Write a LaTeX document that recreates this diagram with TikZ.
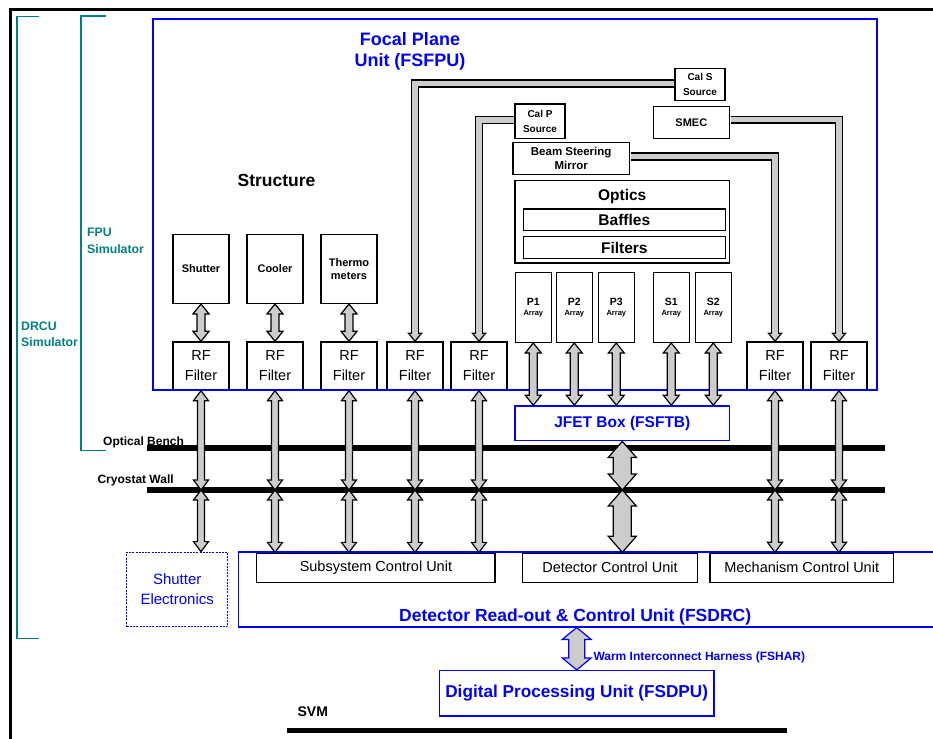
\documentclass[tikz,border=0pt]{standalone}
\usepackage{fontspec}
\setmainfont{Liberation Sans}
\usepackage{tikz}
\usepackage{xcolor}
\usetikzlibrary{calc}

\newcommand{\harness}[6]{\filldraw[#1] (#2) -- ++(#5,#6) -- ++(#4-#5,0) -- ($(#3)+(#4,-#6)$) -- ++(#5-#4,0) -- (#3) -- ++(-#5,-#6) -- ++(#5-#4,0) -- ($(#2)+(-#4,#6)$) -- ++(#4-#5,0) -- cycle;}
\newcommand{\pipehead}[2]{\filldraw[#1] ($(#2)+(-2.8,-8)$) -- ++(-3.7,0) -- (#2) -- ++(6.5,-8) -- ++(-3.7,0);}

\begin{document}
\begin{tikzpicture}[x=1pt, y=-1pt,
		unit/.style={draw, line width={1.4pt}, inner sep=0pt, align=center},
		blueunit/.style={draw={BLUE}, line width={1.5pt}, inner sep=0pt, align=center, text={BLUE}},
		arr/.style={draw, line width={1.2pt}, fill={GREY}},
		bluearr/.style={draw={BLUE}, line width={1.2pt}, fill={GREY}},
		harnesspipe/.style={draw={GREY}, line width={5.6pt}, preaction={draw=black, line width={8.2pt}}},
		simbracket/.style={draw={TEAL}, line width={1.5pt}},
		wall/.style={draw, line width={5.5pt}}]
			\definecolor{BLUE}{RGB}{0, 0, 255}
			\definecolor{TEAL}{RGB}{0, 128, 128}
			\definecolor{GREY}{RGB}{204, 204, 204}
			\useasboundingbox (0, 0) rectangle (933, 738);
			\draw[line width={3pt}] (10.500, 750.000) -- (10.500, 9.700) -- (950.000, 9.700);
			\draw[simbracket] (39.000, 16.300) -| (17.000, 638.700) -- (39.000, 638.700);
			\draw[simbracket] (106.000, 16.000) -| (81.000, 450.700) -- (106.000, 450.700);
			\node[anchor=north west, inner sep=0pt, align=left, text={TEAL}, font={\bfseries\fontsize{12.3}{16.5}\selectfont}] (fpusim) at (87.000, 228.300) {FPU\\Simulator};
			\node[anchor=north west, inner sep=0pt, align=left, text={TEAL}, font={\bfseries\fontsize{12.3}{16.5}\selectfont}] (drcusim) at (21.000, 321.700) {DRCU\\Simulator};
			\node[anchor=north, inner sep=0pt, align=center, text={BLUE}, font={\bfseries\fontsize{18}{21}\selectfont}] (fputitle) at (410.000, 32.300) {Focal Plane\\Unit (FSFPU)};
			\node[anchor=base, inner sep=0pt, font={\bfseries\fontsize{17.5}{20}\selectfont}] (structure) at (276.500, 186.700) {Structure};
			\node[unit, minimum width={56pt}, minimum height={69pt}, font={\bfseries\fontsize{11}{13.3}\selectfont}] (shutter) at (201.000, 268.800) {Shutter};
			\node[unit, minimum width={56pt}, minimum height={69pt}, font={\bfseries\fontsize{11}{13.3}\selectfont}] (cooler) at (275.000, 268.800) {Cooler};
			\node[unit, minimum width={56pt}, minimum height={69pt}, font={\bfseries\fontsize{11}{13.3}\selectfont}] (thermo) at (349.000, 268.800) {Thermo\\meters};
			\node[unit, minimum width={56pt}, minimum height={48pt}, font={\fontsize{14.5}{20}\selectfont}] (rf1) at (201.000, 366.000) {RF\\Filter};
			\node[unit, minimum width={56pt}, minimum height={48pt}, font={\fontsize{14.5}{20}\selectfont}] (rf2) at (275.000, 366.000) {RF\\Filter};
			\node[unit, minimum width={56pt}, minimum height={48pt}, font={\fontsize{14.5}{20}\selectfont}] (rf3) at (349.000, 366.000) {RF\\Filter};
			\node[unit, minimum width={56pt}, minimum height={48pt}, font={\fontsize{14.5}{20}\selectfont}] (rf4) at (415.000, 366.000) {RF\\Filter};
			\node[unit, minimum width={56pt}, minimum height={48pt}, font={\fontsize{14.5}{20}\selectfont}] (rf5) at (479.000, 366.000) {RF\\Filter};
			\node[unit, minimum width={56pt}, minimum height={48pt}, font={\fontsize{14.5}{20}\selectfont}] (rf6) at (775.000, 366.000) {RF\\Filter};
			\node[unit, minimum width={56pt}, minimum height={48pt}, font={\fontsize{14.5}{20}\selectfont}] (rf7) at (839.000, 366.000) {RF\\Filter};
			\node[unit, minimum width={50pt}, minimum height={32pt}, font={\bfseries\fontsize{10}{14.3}\selectfont}] (calS) at (700.000, 84.500) {Cal S\\Source};
			\node[unit, minimum width={50pt}, minimum height={34.5pt}, font={\bfseries\fontsize{10}{14.3}\selectfont}] (calP) at (540.000, 121.300) {Cal P\\Source};
			\node[unit, minimum width={76pt}, minimum height={32pt}, font={\bfseries\fontsize{11}{13}\selectfont}] (smec) at (691.300, 122.700) {SMEC};
			\node[unit, minimum width={116.3pt}, minimum height={31.6pt}, font={\bfseries\fontsize{11.5}{14.3}\selectfont}] (mirror) at (571.200, 158.500) {Beam Steering\\Mirror};
			\node[unit, minimum width={214.3pt}, minimum height={82.3pt}] (optics) at (622.200, 221.800) {};
			\node[anchor=base, inner sep=0pt, font={\bfseries\fontsize{15.5}{18}\selectfont}] (opticstxt) at (622.200, 200.700) {Optics};
			\node[unit, minimum width={202pt}, minimum height={21.3pt}, font={\bfseries\fontsize{15.5}{18}\selectfont}] (baffles) at (624.300, 219.700) {Baffles};
			\node[unit, minimum width={202pt}, minimum height={21.6pt}, font={\bfseries\fontsize{15.5}{18}\selectfont}] (filters) at (624.300, 247.500) {Filters};
			\node[unit, minimum width={36pt}, minimum height={69.6pt}, font={\bfseries\fontsize{10.5}{10.5}\selectfont}] (p1) at (533.300, 307.500) {P1\\{\fontsize{7.5}{10.5}\selectfont Array}};
			\node[unit, minimum width={36pt}, minimum height={69.6pt}, font={\bfseries\fontsize{10.5}{10.5}\selectfont}] (p2) at (574.300, 307.500) {P2\\{\fontsize{7.5}{10.5}\selectfont Array}};
			\node[unit, minimum width={36pt}, minimum height={69.6pt}, font={\bfseries\fontsize{10.5}{10.5}\selectfont}] (p3) at (616.300, 307.500) {P3\\{\fontsize{7.5}{10.5}\selectfont Array}};
			\node[unit, minimum width={36pt}, minimum height={69.6pt}, font={\bfseries\fontsize{10.5}{10.5}\selectfont}] (s1) at (671.300, 307.500) {S1\\{\fontsize{7.5}{10.5}\selectfont Array}};
			\node[unit, minimum width={36pt}, minimum height={69.6pt}, font={\bfseries\fontsize{10.5}{10.5}\selectfont}] (s2) at (713.300, 307.500) {S2\\{\fontsize{7.5}{10.5}\selectfont Array}};
			\node[blueunit, minimum width={724pt}, minimum height={371pt}] (fpu) at (515.000, 204.500) {};
			\node[blueunit, minimum width={214.7pt}, minimum height={34.7pt}, font={\bfseries\fontsize{15.5}{18}\selectfont}] (jfet) at (622.300, 423.300) {JFET Box (FSFTB)};
			\coordinate (benchW) at (147.000, 448.000);
			\coordinate (benchE) at (885.000, 448.000);
			\coordinate (wallW) at (147.000, 490.000);
			\coordinate (wallE) at (885.000, 490.000);
			\node[anchor=base west, inner sep=0pt, font={\bfseries\fontsize{12}{14}\selectfont}] (benchtxt) at (103.000, 445.000) {Optical Bench};
			\node[anchor=base west, inner sep=0pt, font={\bfseries\fontsize{12}{14}\selectfont}] (walltxt) at (97.300, 483.300) {Cryostat Wall};
			\node[blueunit, dash pattern=on 2pt off 1.2pt, line width={1.4pt}, minimum width={101pt}, minimum height={74.4pt}, font={\fontsize{15}{20}\selectfont}] (shutel) at (177.200, 589.500) {Shutter\\Electronics};
			\node[unit, minimum width={238.3pt}, minimum height={29.3pt}, font={\fontsize{14.5}{17}\selectfont}] (scu) at (375.900, 567.700) {Subsystem Control Unit};
			\node[unit, minimum width={174.6pt}, minimum height={29.6pt}, font={\fontsize{14.5}{17}\selectfont}] (dcu) at (610.000, 567.800) {Detector Control Unit};
			\node[unit, minimum width={183.3pt}, minimum height={29.6pt}, font={\fontsize{14.5}{17}\selectfont}] (mcu) at (801.700, 567.800) {Mechanism Control Unit};
			\node[blueunit, minimum width={706.3pt}, minimum height={74.7pt}] (drc) at (591.800, 589.400) {};
			\node[anchor=base, inner sep=0pt, text={BLUE}, font={\bfseries\fontsize{17.5}{20}\selectfont}] (drctitle) at (575.200, 621.000) {Detector Read-out \& Control Unit (FSDRC)};
			\node[blueunit, minimum width={274.7pt}, minimum height={45.3pt}, font={\bfseries\fontsize{17.2}{20}\selectfont}] (dpu) at (576.700, 693.300) {Digital Processing Unit (FSDPU)};
			\node[anchor=base west, inner sep=0pt, text={BLUE}, font={\bfseries\fontsize{12}{14}\selectfont}] (whartxt) at (593.300, 660.700) {Warm Interconnect Harness (FSHAR)};
			\coordinate (svmW) at (287.000, 730.700);
			\coordinate (svmE) at (787.000, 730.700);
			\node[anchor=base, inner sep=0pt, font={\bfseries\fontsize{14}{16}\selectfont}] (svmtxt) at (312.800, 716.700) {SVM};
			\draw[wall] (benchW) -- (benchE);
			\draw[wall] (wallW) -- (wallE);
			\draw[wall, line width={5pt}] (svmW) -- (svmE);
			\draw[harnesspipe] ([xshift=-0.7pt, yshift=1pt]calS.west) -| ($(rf4.north)+(0,-8)$);
			\pipehead{arr}{rf4.north}
			\draw[harnesspipe] ([xshift=-0.7pt, yshift=1.5pt]calP.west) -| ($(rf5.north)+(0,-8)$);
			\pipehead{arr}{rf5.north}
			\draw[harnesspipe] ([xshift=0.7pt, yshift=2pt]mirror.east) -| ($(rf6.north)+(0,-8)$);
			\pipehead{arr}{rf6.north}
			\draw[harnesspipe] ([xshift=0.7pt, yshift=3pt]smec.east) -| ($(rf7.north)+(0,-8)$);
			\pipehead{arr}{rf7.north}
			\harness{arr}{shutter.south}{rf1.north}{4}{8}{10}
			\harness{arr}{cooler.south}{rf2.north}{4}{8}{10}
			\harness{arr}{thermo.south}{rf3.north}{4}{8}{10}
			\harness{arr}{p1.south}{p1.south |- jfet.north}{4}{8}{10}
			\harness{arr}{p2.south}{p2.south |- jfet.north}{4}{8}{10}
			\harness{arr}{p3.south}{p3.south |- jfet.north}{4}{8}{10}
			\harness{arr}{s1.south}{s1.south |- jfet.north}{4}{8}{10}
			\harness{arr}{s2.south}{s2.south |- jfet.north}{4}{8}{10}
			\harness{arr}{rf1.south}{rf1.south |- wallW}{3.5}{7.5}{10}
			\harness{arr}{rf1.south |- wallW}{rf1.south |- shutel.north}{3.5}{7.5}{10}
			\harness{arr}{rf2.south}{rf2.south |- wallW}{3.5}{7.5}{10}
			\harness{arr}{rf2.south |- wallW}{rf2.south |- scu.north}{3.5}{7.5}{10}
			\harness{arr}{rf3.south}{rf3.south |- wallW}{3.5}{7.5}{10}
			\harness{arr}{rf3.south |- wallW}{rf3.south |- scu.north}{3.5}{7.5}{10}
			\harness{arr}{rf4.south}{rf4.south |- wallW}{3.5}{7.5}{10}
			\harness{arr}{rf4.south |- wallW}{rf4.south |- scu.north}{3.5}{7.5}{10}
			\harness{arr}{rf5.south}{rf5.south |- wallW}{3.5}{7.5}{10}
			\harness{arr}{rf5.south |- wallW}{rf5.south |- scu.north}{3.5}{7.5}{10}
			\harness{arr}{rf6.south}{rf6.south |- wallW}{3.5}{7.5}{10}
			\harness{arr}{rf6.south |- wallW}{rf6.south |- mcu.north}{3.5}{7.5}{10}
			\harness{arr}{rf7.south}{rf7.south |- wallW}{3.5}{7.5}{10}
			\harness{arr}{rf7.south |- wallW}{rf7.south |- mcu.north}{3.5}{7.5}{10}
			\harness{arr}{jfet.south}{jfet.south |- wallW}{9}{14}{16}
			\harness{arr}{jfet.south |- wallW}{jfet.south |- dcu.north}{9}{14}{16}
			\harness{bluearr}{dpu.north |- drc.south}{dpu.north}{8}{14.5}{12}
		\end{tikzpicture}
\end{document}
